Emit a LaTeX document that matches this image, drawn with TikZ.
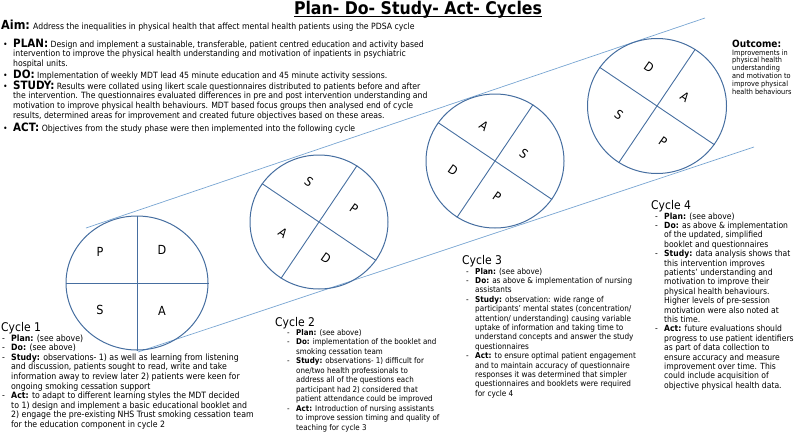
\documentclass[tikz,border=0pt]{standalone}
\usepackage{fontspec}
\setmainfont{DejaVu Sans Condensed}
\usetikzlibrary{calc,positioning,shapes.geometric}
\definecolor{lineblue}{RGB}{70,110,160}
\definecolor{tanblue}{RGB}{120,165,210}
\newcommand{\bodyf}[2]{\fontsize{#1}{#2}\selectfont}
\newcommand{\itm}[1]{\makebox[9pt][l]{-}\textbf{#1}}
\newcommand{\ind}{\hspace*{9pt}}
\newcommand{\blt}[1]{\makebox[10pt][l]{\textbullet}{\fontsize{11.5}{12}\selectfont\bfseries #1}}
\newcommand{\hind}{\hspace*{10pt}}
\renewcommand{\arraystretch}{1}
\tikzset{
ttl/.style={inner sep=0, anchor=base, font=\fontsize{17.5}{20}\selectfont\bfseries},
txt/.style={inner sep=0, anchor=base west, font=\bodyf{8.6}{9.7}},
cychead/.style={inner sep=0, anchor=base west, font=\fontsize{12}{14}\selectfont},
pdsa/.style={draw=lineblue, line width=1pt, ellipse, minimum width=138pt, minimum height=134pt, inner sep=0},
quarter/.style={draw=lineblue, line width=0.9pt},
tangent/.style={draw=tanblue, line width=0.7pt},
lett/.style={inner sep=0, font=\fontsize{12.5}{14}\selectfont}
}
\begin{document}
\begin{tikzpicture}[x=1pt, y=-1pt]
\useasboundingbox (0,0) rectangle (800,434);
\node[ttl] (title) at (418,14) {Plan- Do- Study- Act- Cycles};
\draw[line width=1.3pt] ([yshift=-2.5pt]title.base west) -- ([yshift=-2.5pt]title.base east);
\node[txt] (aim) at (1,29) {{\fontsize{12.5}{14}\selectfont\bfseries Aim:} Address the inequalities in physical health that affect mental health patients using the PDSA cycle};
\node[txt] (plan) at (3,47) {\begin{tabular}[t]{@{}l@{}}
\blt{PLAN:} Design and implement a sustainable, transferable, patient centred education and activity based\\
\hind intervention to improve the physical health understanding and motivation of inpatients in psychiatric\\
\hind hospital units.
\end{tabular}};
\node[txt] (do) at (3,78) {\blt{DO:} Implementation of weekly MDT lead 45 minute education and 45 minute activity sessions.};
\node[txt] (study) at (3,89) {\begin{tabular}[t]{@{}l@{}}
\blt{STUDY:} Results were collated using likert scale questionnaires distributed to patients before and after\\
\hind the intervention. The questionnaires evaluated differences in pre and post intervention understanding and\\
\hind motivation to improve physical health behaviours. MDT based focus groups then analysed end of cycle\\
\hind results, determined areas for improvement and created future objectives based on these areas.
\end{tabular}};
\node[txt] (act) at (3,131) {\blt{ACT:} Objectives from the study phase were then implemented into the following cycle};

\coordinate (u0) at (86,228);
\coordinate (u1) at (705,18);
\coordinate (l0) at (138,352);
\coordinate (l1) at (754,147);
\draw[tangent] (u0) -- (u1);
\draw[tangent] (l0) -- (l1);

\node[pdsa, minimum width=142pt] (c1) at (137,283) {};
\node[pdsa] (c2) at (319,222) {};
\node[pdsa] (c3) at (495,161) {};
\node[pdsa, minimum width=139pt, minimum height=135pt] (c4) at (657,106) {};
\draw[quarter] (c1.north) -- (c1.south);
\draw[quarter] (c1.west) -- (c1.east);
\foreach \c in {c2,c3,c4}{
\draw[quarter] (\c.146) -- (\c.-34);
\draw[quarter] (\c.56) -- (\c.236);
}
\foreach \n/\l/\dx/\dy in {p/P/-37/-31, d/D/25/-33, s/S/-37/27, a/A/25/28}
\node[lett] (c1\n) at ($(c1)+(\dx,\dy)$) {\l};
\foreach \n/\l/\dx/\dy in {s/S/-10/-40, p/P/35/-13, a/A/-36/11, d/D/7/36}
\node[lett, rotate=-35] (c2\n) at ($(c2)+(\dx,\dy)$) {\l};
\foreach \n/\l/\dx/\dy in {a/A/-11/-35, s/S/29/-7, d/D/-42/9, p/P/2/36}
\node[lett, rotate=-35] (c3\n) at ($(c3)+(\dx,\dy)$) {\l};
\foreach \n/\l/\dx/\dy in {d/D/-8/-39, a/A/28/-9, s/S/-38/9, p/P/6/36}
\node[lett, rotate=-35] (c4\n) at ($(c4)+(\dx,\dy)$) {\l};

\node[txt, font=\fontsize{10}{12}\selectfont\bfseries] (outhead) at (732,47) {Outcome:};
\node[txt, font=\bodyf{7.3}{7.9}] (outtxt) at (732,55) {\begin{tabular}[t]{@{}l@{}}
Improvements in\\ physical health\\ understanding\\ and motivation to\\ improve physical\\ health behaviours
\end{tabular}};

\node[cychead] (h1) at (1,331) {Cycle 1};
\node[txt, font=\bodyf{8.7}{9.6}] (cy1) at (2,341) {\begin{tabular}[t]{@{}l@{}}
\itm{Plan:} (see above)\\
\itm{Do:} (see above)\\
\itm{Study:} observations- 1) as well as learning from listening\\
\ind and discussion, patients sought to read, write and take\\
\ind information away to review later 2) patients were keen for\\
\ind ongoing smoking cessation support\\
\itm{Act:} to adapt to different learning styles the MDT decided\\
\ind to 1) design and implement a basic educational booklet and\\
\ind 2) engage the pre-existing NHS Trust smoking cessation team\\
\ind for the education component in cycle 2
\end{tabular}};

\node[cychead] (h2) at (275,326) {Cycle 2};
\node[txt, font=\bodyf{7.9}{9.5}] (cy2) at (287,335) {\begin{tabular}[t]{@{}l@{}}
\itm{Plan:} (see above)\\
\itm{Do:} implementation of the booklet and\\
\ind smoking cessation team\\
\itm{Study:} observations- 1) difficult for\\
\ind one/two health professionals to\\
\ind address all of the questions each\\
\ind participant had 2) considered that\\
\ind patient attendance could be improved\\
\itm{Act:} Introduction of nursing assistants\\
\ind to improve session timing and quality of\\
\ind teaching for cycle 3
\end{tabular}};

\node[cychead] (h3) at (462,264) {Cycle 3};
\node[txt, font=\bodyf{8.1}{9.4}] (cy3) at (466,274) {\begin{tabular}[t]{@{}l@{}}
\itm{Plan:} (see above)\\
\itm{Do:} as above \& implementation of nursing\\
\ind assistants\\
\itm{Study:} observation: wide range of\\
\ind participants' mental states (concentration/\\
\ind attention/ understanding) causing variable\\
\ind uptake of information and taking time to\\
\ind understand concepts and answer the study\\
\ind questionnaires\\
\itm{Act:} to ensure optimal patient engagement\\
\ind and to maintain accuracy of questionnaire\\
\ind responses it was determined that simpler\\
\ind questionnaires and booklets were required\\
\ind for cycle 4
\end{tabular}};

\node[cychead] (h4) at (651,209) {Cycle 4};
\node[txt, font=\bodyf{8.5}{9.4}] (cy4) at (655,219) {\begin{tabular}[t]{@{}l@{}}
\itm{Plan:} (see above)\\
\itm{Do:} as above \& implementation\\
\ind of the updated, simplified\\
\ind booklet and questionnaires\\
\itm{Study:} data analysis shows that\\
\ind this intervention improves\\
\ind patients' understanding and\\
\ind motivation to improve their\\
\ind physical health behaviours.\\
\ind Higher levels of pre-session\\
\ind motivation were also noted at\\
\ind this time.\\
\itm{Act:} future evaluations should\\
\ind progress to use patient identifiers\\
\ind as part of data collection to\\
\ind ensure accuracy and measure\\
\ind improvement over time. This\\
\ind could include acquisition of\\
\ind objective physical health data.
\end{tabular}};
\end{tikzpicture}
\end{document}
